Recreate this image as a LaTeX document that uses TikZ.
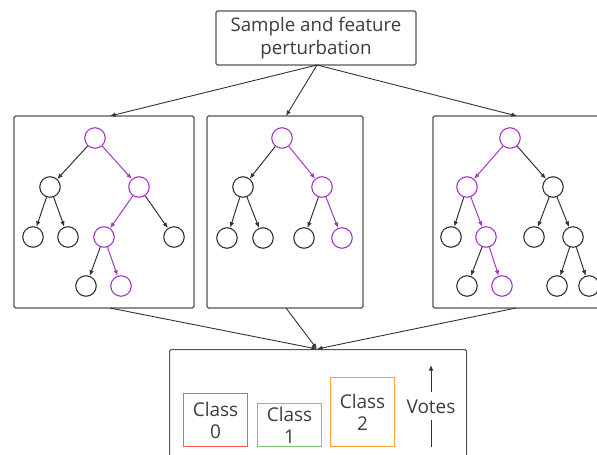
\documentclass[tikz,border=0pt]{standalone}
\usepackage{fontspec}
\setmainfont{Open Sans}
\usetikzlibrary{arrows.meta}
\definecolor{txt}{HTML}{3C3C3C}
\definecolor{frame}{HTML}{555555}
\definecolor{edgecol}{HTML}{333333}
\definecolor{pathcol}{RGB}{165,55,195}
\definecolor{cred}{HTML}{FF5A5A}
\definecolor{cgreen}{HTML}{7CC87C}
\definecolor{corange}{HTML}{FFA040}
\tikzset{
  box/.style={draw=frame, line width=1.1pt, rounded corners=1.5pt, inner sep=0pt},
  tnode/.style={circle, draw=edgecol, line width=1.1pt, minimum size=20.5pt, inner sep=0pt},
  pnode/.style={tnode, draw=pathcol},
  tip/.style={-{Latex[length=5.5pt,width=4.5pt]}},
  bedge/.style={tip, draw=edgecol, line width=1pt},
  pedge/.style={tip, draw=pathcol, line width=1pt},
  conn/.style={tip, draw=edgecol, line width=0.9pt},
  classbox/.style={draw, line width=1.1pt, inner sep=0pt, align=center, text=txt,
                   font=\fontsize{19}{22}\selectfont},
}
\begin{document}
\begin{tikzpicture}[x=1pt, y=-1pt]
\useasboundingbox (0,0) rectangle (597,455);
\clip (0,0) rectangle (597,455);

% top box
\node[box, minimum width=200pt, minimum height=54pt, align=center, text=txt,
      font=\fontsize{18.7}{23}\selectfont] (top) at (316,38)
      {Sample and feature\\perturbation};

% tree frames
\node[box, minimum width=180pt, minimum height=192pt] (f1) at (104,212) {};
\node[box, minimum width=156pt, minimum height=192pt] (f2) at (285,212) {};
\node[box, minimum width=180pt, minimum height=192pt] (f3) at (523,212) {};
% result frame
\node[box, minimum width=297pt, minimum height=130pt, anchor=north west] (res) at (169,349) {};

\coordinate (src) at (317,65);
\coordinate (in1) at (110,116);
\coordinate (in2) at (286,116);
\coordinate (in3) at (517,116);
\coordinate (out1) at (110,308);
\coordinate (out2) at (286,308);
\coordinate (out3) at (516,308);
\coordinate (sink) at (317,349);

\draw[conn] (src) -- (in1);
\draw[conn] (src) -- (in2);
\draw[conn] (src) -- (in3);
\draw[conn] (out1) -- (sink);
\draw[conn] (out2) -- (sink);
\draw[conn] (out3) -- (sink);

% tree 1
\node[pnode] (a0) at (95,138) {};
\node[tnode] (a1) at (50,187) {};
\node[pnode] (a2) at (139,187) {};
\node[tnode] (a3) at (33,237) {};
\node[tnode] (a4) at (68,237) {};
\node[pnode] (a5) at (104,237) {};
\node[tnode] (a6) at (174,237) {};
\node[tnode] (a7) at (86,286) {};
\node[pnode] (a8) at (121,286) {};
\draw[bedge] (a0) -- (a1);
\draw[pedge] (a0) -- (a2);
\draw[bedge] (a1) -- (a3);
\draw[bedge] (a1) -- (a4);
\draw[pedge] (a2) -- (a5);
\draw[bedge] (a2) -- (a6);
\draw[bedge] (a5) -- (a7);
\draw[pedge] (a5) -- (a8);

% tree 2
\node[pnode] (b0) at (282,138) {};
\node[tnode] (b1) at (243,187) {};
\node[pnode] (b2) at (322,187) {};
\node[tnode] (b3) at (227,238) {};
\node[tnode] (b4) at (263,238) {};
\node[tnode] (b5) at (304,238) {};
\node[pnode] (b6) at (342,238) {};
\draw[bedge] (b0) -- (b1);
\draw[pedge] (b0) -- (b2);
\draw[bedge] (b1) -- (b3);
\draw[bedge] (b1) -- (b4);
\draw[bedge] (b2) -- (b5);
\draw[pedge] (b2) -- (b6);

% tree 3
\node[pnode] (c0) at (510,138) {};
\node[pnode] (c1) at (467,187) {};
\node[tnode] (c2) at (553,187) {};
\node[tnode] (c3) at (451,237) {};
\node[pnode] (c4) at (486,237) {};
\node[tnode] (c5) at (534,237) {};
\node[tnode] (c6) at (573,237) {};
\node[tnode] (c7) at (467,286) {};
\node[pnode] (c8) at (502,286) {};
\node[tnode] (c9) at (557,286) {};
\node[tnode] (c10) at (589,286) {};
\draw[pedge] (c0) -- (c1);
\draw[bedge] (c0) -- (c2);
\draw[bedge] (c1) -- (c3);
\draw[pedge] (c1) -- (c4);
\draw[bedge] (c2) -- (c5);
\draw[bedge] (c2) -- (c6);
\draw[bedge] (c4) -- (c7);
\draw[pedge] (c4) -- (c8);
\draw[bedge] (c6) -- (c9);
\draw[bedge] (c6) -- (c10);

% votes
\node[classbox, draw=cred, minimum width=64pt, minimum height=53pt, anchor=south west]
  (k0) at (183,447) {Class\\0};
\node[classbox, draw=cgreen, minimum width=64pt, minimum height=43pt, anchor=south west]
  (k1) at (257,447) {Class\\1};
\node[classbox, draw=corange, minimum width=64pt, minimum height=69pt, anchor=south west]
  (k2) at (330,447) {Class\\2};
\node[text=txt, font=\fontsize{19}{22}\selectfont, inner sep=0pt] (votes) at (431,407) {Votes};
\coordinate (vlow) at (431,447);
\coordinate (vtop) at (431,365);
\draw[edgecol, line width=0.9pt] (vlow) -- ([yshift=-6pt]votes.south);
\draw[conn] ([yshift=8pt]votes.north) -- (vtop);
\end{tikzpicture}
\end{document}
